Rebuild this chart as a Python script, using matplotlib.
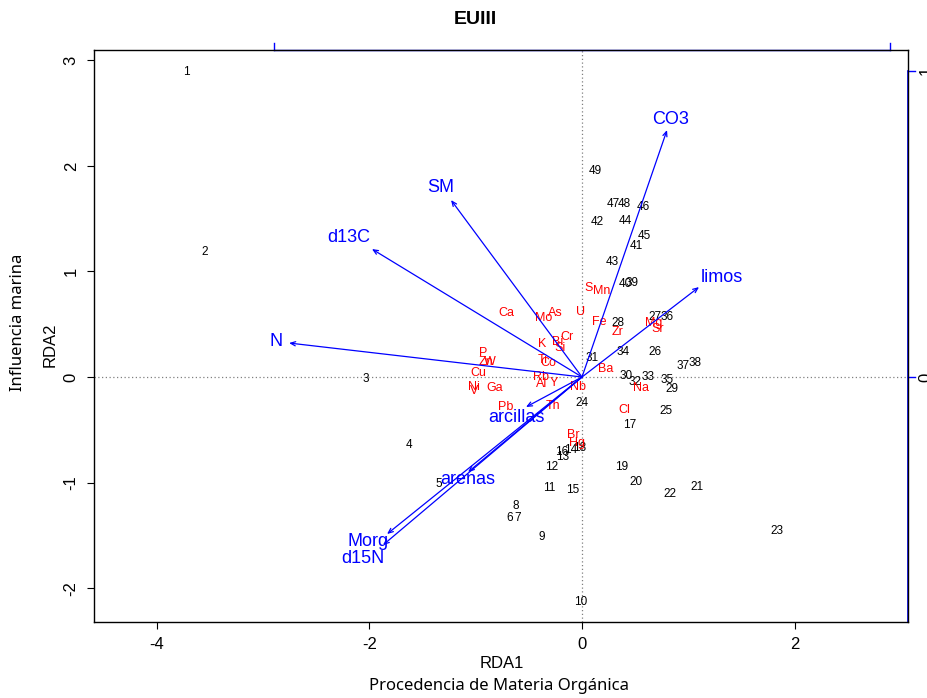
import matplotlib
matplotlib.use("Agg")
import matplotlib.pyplot as plt

plt.rcParams['font.family'] = ['Liberation Sans', 'DejaVu Sans']

# puntos de sitios (scores RDA1, RDA2)
sites = [str(i) for i in range(1, 50)]
site_x = [-3.725, -3.547, -2.032, -1.627, -1.345, -0.677, -0.602, -0.621, -0.376, -0.009,
          -0.310, -0.282, -0.179, -0.103, -0.085, -0.188, 0.452, -0.019, 0.376, 0.508,
          1.082, 0.828, 1.834, 0.000, 0.790, 0.687, 0.687, 0.339, 0.847, 0.414,
          0.094, 0.499, 0.621, 0.386, 0.800, 0.800, 0.950, 1.063, 0.470, 0.405,
          0.508, 0.141, 0.282, 0.405, 0.583, 0.574, 0.292, 0.395, 0.122]
site_y = [2.888, 1.184, -0.019, -0.644, -1.013, -1.335, -1.335, -1.222, -1.515, -2.131,
          -1.051, -0.852, -0.758, -0.691, -1.070, -0.710, -0.455, -0.672, -0.852, -0.994,
          -1.042, -1.108, -1.458, -0.246, -0.322, 0.237, 0.568, 0.511, -0.114, 0.009,
          0.180, -0.047, 0.000, 0.237, -0.028, 0.568, 0.104, 0.133, 0.890, 0.881,
          1.241, 1.468, 1.089, 1.477, 1.335, 1.610, 1.638, 1.638, 1.951]

# elementos (especies)
species = ['Ca', 'Mo', 'As', 'U', 'S', 'Mn', 'Fe', 'Zr', 'Mg', 'Sr',
           'K', 'Bi', 'Si', 'Cr', 'Ti', 'Co', 'P', 'Zn', 'W', 'Cu',
           'Ni', 'V', 'Ga', 'Rb', 'Al', 'Y', 'Nb', 'Ba', 'Na', 'Cl',
           'Th', 'Pb', 'Br', 'Hg']
sp_x = [-0.715, -0.357, -0.254, -0.009, 0.066, 0.188, 0.160, 0.339, 0.677, 0.715,
        -0.376, -0.226, -0.207, -0.141, -0.367, -0.320, -0.931, -0.903, -0.865, -0.978,
        -1.016, -1.016, -0.818, -0.386, -0.376, -0.263, -0.038, 0.226, 0.555, 0.395,
        -0.273, -0.715, -0.085, -0.047]
sp_y = [0.606, 0.559, 0.606, 0.616, 0.843, 0.814, 0.521, 0.426, 0.511, 0.455,
        0.313, 0.331, 0.275, 0.379, 0.161, 0.133, 0.227, 0.142, 0.142, 0.038,
        -0.095, -0.133, -0.104, 0.000, -0.066, -0.057, -0.095, 0.076, -0.104, -0.313,
        -0.275, -0.284, -0.549, -0.625]

# variables ambientales (flechas)
env = ['CO3', 'limos', 'SM', 'd13C', 'N', 'arcillas', 'arenas', 'Morg', 'd15N']
env_x = [0.800, 1.101, -1.232, -1.976, -2.756, -0.527, -1.072, -1.834, -1.872]
env_y = [2.339, 0.852, 1.676, 1.212, 0.322, -0.284, -0.900, -1.487, -1.591]
env_lab_x = [0.837, 1.317, -1.326, -2.192, -2.879, -0.621, -1.072, -2.013, -2.060]
env_lab_y = [2.443, 0.938, 1.799, 1.326, 0.341, -0.379, -0.975, -1.553, -1.723]

xticks = [-4, -2, 0, 2]
yticks = [-2, -1, 0, 1, 2, 3]
arrow_mul = 2.9  # escala de las flechas (ejes azules)

fig = plt.figure(figsize=(9.28, 6.98), dpi=100)
ax = fig.add_axes([94 / 928, 76 / 698, 814 / 928, 572 / 698])
ax.set_xlim(-4.591, 3.067)
ax.set_ylim(-2.320, 3.097)

ax.axhline(0, color='grey', lw=0.9, ls=(0, (1, 2)), zorder=1)
ax.axvline(0, color='grey', lw=0.9, ls=(0, (1, 2)), zorder=1)

for lab, x, y in zip(sites, site_x, site_y):
    ax.text(x, y, lab, fontsize=8.5, ha='center', va='center', color='black')

for lab, x, y in zip(species, sp_x, sp_y):
    ax.text(x, y, lab, fontsize=9, ha='center', va='center', color='red')

for x, y in zip(env_x, env_y):
    ax.annotate('', xy=(x, y), xytext=(0, 0),
                arrowprops=dict(arrowstyle='->,head_length=0.35,head_width=0.15',
                                color='blue', lw=0.9, shrinkA=0, shrinkB=0))
for lab, x, y in zip(env, env_lab_x, env_lab_y):
    ax.text(x, y, lab, fontsize=13, ha='center', va='center', color='blue')

ax.set_xticks(xticks)
ax.set_yticks(yticks)
ax.set_xticklabels([str(t) for t in xticks], fontsize=12)
ax.set_yticklabels([str(t) for t in yticks], fontsize=12, rotation=90, va='center')
ax.tick_params(direction='out', length=5, width=0.8, pad=6)
for s in ax.spines.values():
    s.set_linewidth(1.0)

# ejes secundarios azules (escala de flechas)
xl = ax.get_xlim()
yl = ax.get_ylim()
tk = 7 / 106.0
ax.plot([-arrow_mul, arrow_mul], [yl[1], yl[1]], color='blue', lw=1, clip_on=False)
for t in [-1, 1]:
    ax.plot([t * arrow_mul] * 2, [yl[1], yl[1] + tk], color='blue', lw=1, clip_on=False)
ax.plot([xl[1], xl[1]], [yl[0], arrow_mul], color='blue', lw=1.2, clip_on=False)
for t in [0, 1]:
    ax.plot([xl[1], xl[1] + tk], [t * arrow_mul] * 2, color='blue', lw=1, clip_on=False)
    ax.text(xl[1] + 18 / 106.0, t * arrow_mul, str(t), fontsize=12, rotation=90,
            ha='center', va='center', clip_on=False)

fig.text(475 / 928, 1 - 20 / 698, 'EUIII', fontsize=14, fontweight='bold',
         ha='center', va='center')
fig.text(502 / 928, 1 - 663 / 698, 'RDA1', fontsize=12, ha='center', va='center')
fig.text(499 / 928, 1 - 686 / 698, 'Procedencia de Materia Orgánica', fontsize=12,
         ha='center', va='center', family='Noto Sans')
fig.text(50 / 928, 1 - 345 / 698, 'RDA2', fontsize=12, rotation=90, ha='center', va='center')
fig.text(18 / 928, 1 - 322 / 698, 'Influencia marina', fontsize=12, rotation=90,
         ha='center', va='center', family='Noto Sans')

fig.savefig('out.png', dpi=100)
